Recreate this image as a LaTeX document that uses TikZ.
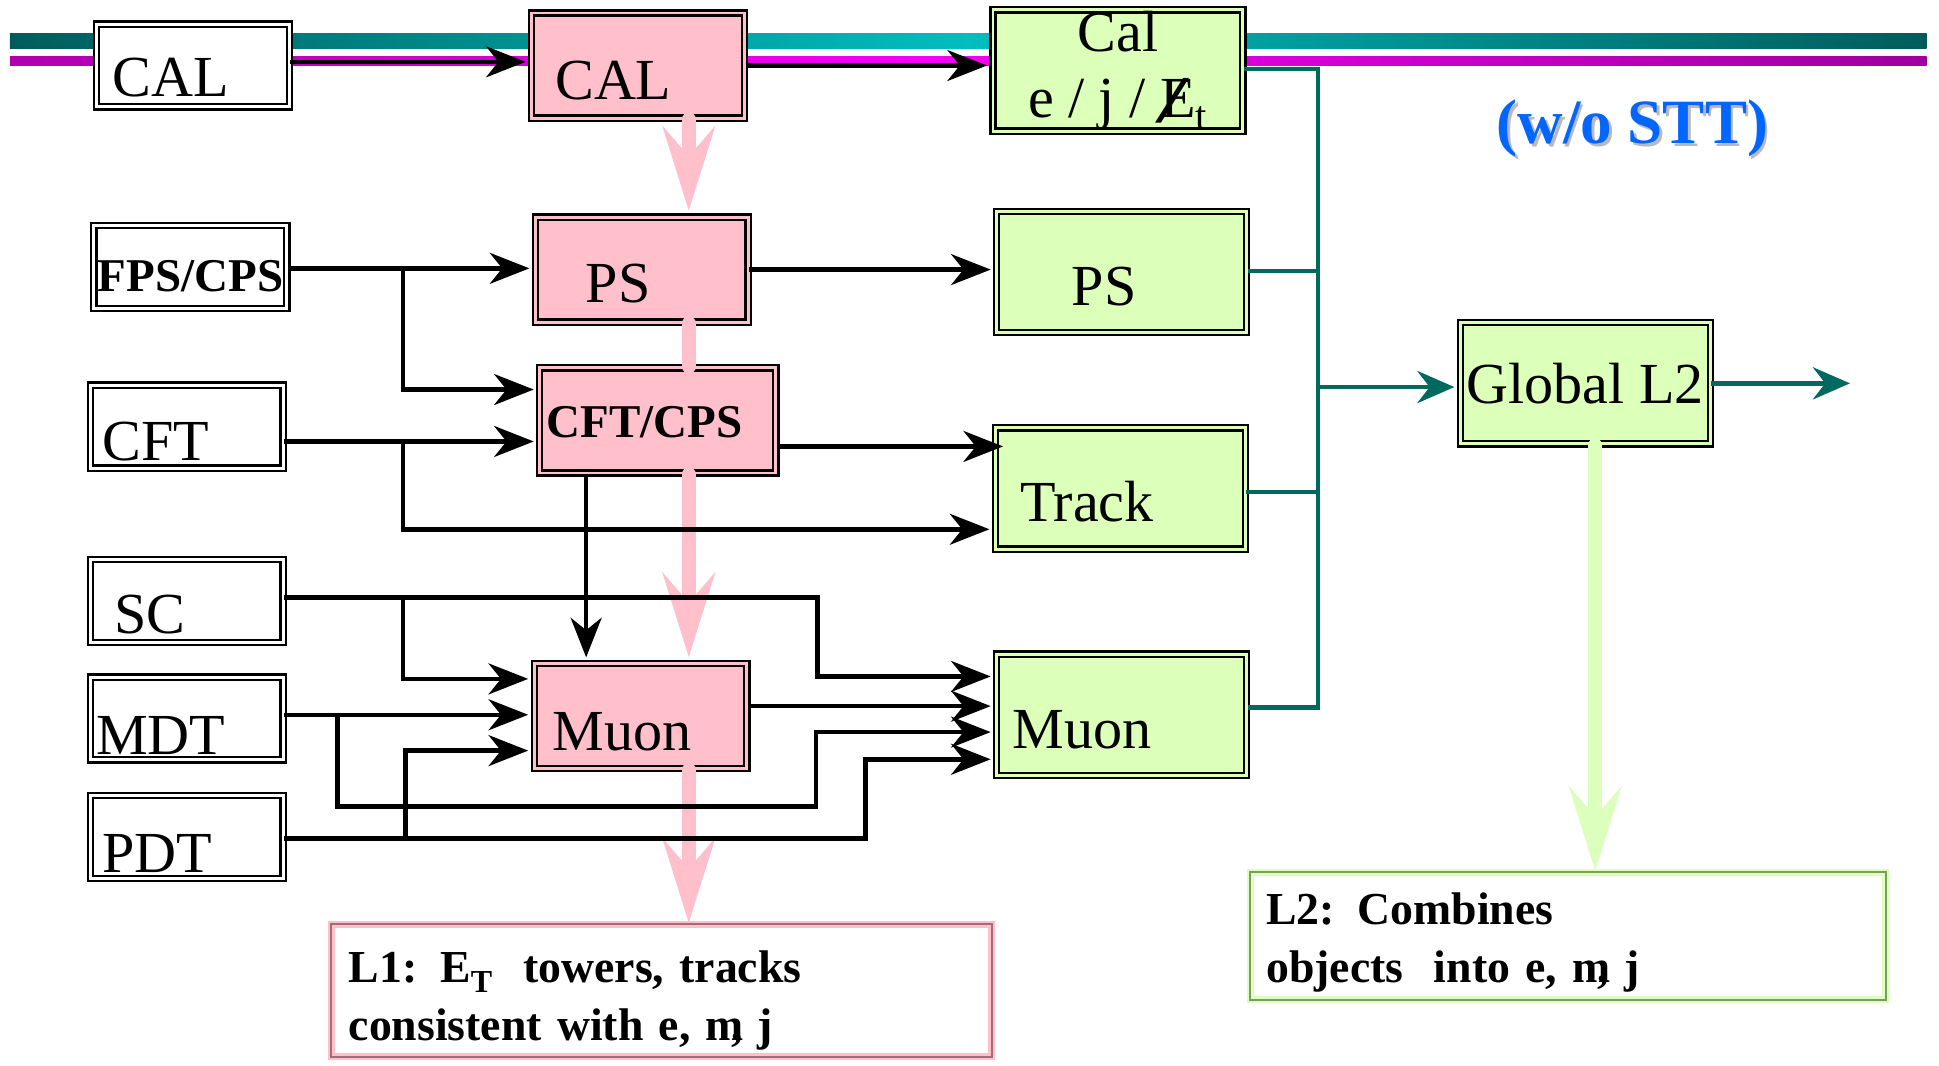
\documentclass[tikz,border=0pt]{standalone}
\usepackage{fontspec}
\setmainfont{Liberation Serif}
\usetikzlibrary{arrows.meta}
\definecolor{lpink}{RGB}{255,192,203}
\definecolor{lgreen}{RGB}{220,255,185}
\definecolor{arrgreen}{RGB}{220,255,190}
\definecolor{busc}{RGB}{0,105,95}
\definecolor{tealdark}{RGB}{0,92,92}
\definecolor{teallight}{RGB}{0,190,190}
\definecolor{magdark}{RGB}{175,0,175}
\definecolor{maglight}{RGB}{245,0,245}
\definecolor{titleblue}{RGB}{0,102,255}
\definecolor{pinkdark}{RGB}{160,110,120}
\definecolor{greendark}{RGB}{125,155,95}
\newcommand\lblfont{\fontsize{47}{53}\selectfont}
\newcommand\boldlbl{\fontsize{38}{42}\selectfont\bfseries}
\newcommand\notefont{\fontsize{37}{47}\selectfont\bfseries}
\newcommand\titlefont{\fontsize{51}{55}\selectfont\bfseries}
\newcommand\slashE{\makebox[0pt][l]{\kern-0.08em\raisebox{-0.1em}{\scalebox{2.1}[1.15]{/}}}E}

\begin{document}
\begin{tikzpicture}[x=1pt, y=-1pt,
    every label/.style={font=\lblfont, inner sep=0pt},
    txt/.style n args={3}{label={[shift={(#1,#2)}]center:#3}},
    box/.style={rectangle, draw=black, line width=1.8pt, double distance=2.4pt, inner sep=0pt, font=\lblfont},
    srcbox/.style={box, double=white, fill=white, minimum width=156pt, minimum height=67pt},
    pinkbox/.style={box, double=lpink, fill=lpink, minimum width=172pt, minimum height=85pt},
    greenbox/.style={box, double=lgreen, fill=lgreen, minimum width=202pt, minimum height=98pt},
    note/.style={rectangle, line width=2pt, double distance=1.6pt, fill=white, align=left, inner sep=0pt, font=\notefont},
    conn/.style={line width=3.6pt, -{Stealth[length=32pt, width=25pt, inset=10pt]}, shorten >=4pt},
    bus/.style={draw=busc, line width=3.6pt},
    busarr/.style={-{Stealth[length=30pt, width=26pt, inset=10pt]}, shorten >=4pt},
    fat/.style={draw=lpink, line width=11pt, line cap=round, -{Stealth[length=68pt, width=42pt, inset=24pt]}}]
  \useasboundingbox (0,0) rectangle (1568,862);

  % bars
  \shade[left color=tealdark, right color=tealdark, middle color=teallight] (8,27) rectangle (1558,39);
  \shade[left color=magdark, right color=magdark!90!black, middle color=maglight] (8,46) rectangle (1558,53);

  % inputs
  \node[srcbox, txt={-18}{10}{CAL}] (cal) at (156,53) {};
  \node[srcbox, txt={0}{7}{\boldlbl FPS/CPS}] (fps) at (154,216) {};
  \node[srcbox, txt={-25}{12}{CFT}] (cft) at (151,345) {};
  \node[srcbox, txt={-30}{11}{SC}] (sc) at (151,486) {};
  \node[srcbox, txt={-21}{14}{MDT}] (mdt) at (151,581) {};
  \node[srcbox, txt={-24}{13}{PDT}] (pdt) at (151,677) {};

  % L1
  \node[pinkbox, txt={-20}{12}{CAL}] (lcal) at (516,53) {};
  \node[pinkbox, txt={-19}{11}{PS}] (lps) at (519,218) {};
  \node[pinkbox, minimum width=191pt, txt={-11}{1}{\boldlbl CFT/CPS}] (lcft) at (532,340) {};
  \node[pinkbox, txt={-15}{13}{Muon}] (lmu) at (518,579) {};

  % L2
  \node[greenbox, align=center] (gcal) at (904,57) {Cal\\e / j / \slashE\textsubscript{t}};
  \node[greenbox, txt={-14}{12}{PS}] (gps) at (907,220) {};
  \node[greenbox, txt={-27}{11}{Track}] (gtrk) at (906,395) {};
  \node[greenbox, txt={-32}{12}{Muon}] (gmu) at (907,578) {};
  \node[greenbox] (glob) at (1282,310) {Global L2};

  \node[font=\titlefont, text=gray!55] (wosttsh) at (1322,106) {(w/o STT)};
  \node[font=\titlefont, text=titleblue] (wostt) at (1320,104) {(w/o STT)};

  \node[note, draw=lpink, double=pinkdark, minimum width=534pt, minimum height=107pt, text width=506pt] (l1note) at (535,801)
    {\rule{0pt}{42pt}L1: E\textsubscript{T}~ towers, tracks\\consistent with e, m\kern-.28em, j};
  \node[note, draw=arrgreen, double=greendark, minimum width=514pt, minimum height=103pt, text width=488pt] (l2note) at (1268,757)
    {\rule{0pt}{36pt}L2: Combines\\objects~ into e, m\kern-.28em, j};

  % level flow
  \draw[fat, shorten >=4pt] (lcal.south -| 557,0) -- (lps.north -| 557,0);
  \draw[lpink, line width=11pt, line cap=round] (lps.south -| 557,0) -- (lcft.north -| 557,0);
  \draw[fat, shorten >=4pt] (lcft.south -| 557,0) -- (lmu.north -| 557,0);
  \draw[fat] (lmu.south -| 557,0) -- (l1note.north -| 557,0);
  \draw[fat, draw=arrgreen] (glob.south -| 1290,0) -- (l2note.north -| 1290,0);

  % junctions
  \coordinate (jfps) at (326,217);
  \coordinate (jcft) at (326,357);
  \coordinate (jsc) at (326,483);
  \coordinate (jmdt) at (273,578);
  \coordinate (jpdt) at (328,678);

  \draw[conn] (cal.east |- 0,50) -- (lcal.west |- 0,50);
  \draw[conn] (lcal.east |- 0,53) -- (gcal.west |- 0,53);
  \draw[conn] (fps.east |- 0,217) -- (lps.west |- 0,217);
  \draw[conn] (jfps) |- (lcft.west |- 0,315);
  \draw[conn] (lps.east |- 0,218) -- (gps.west |- 0,218);
  \draw[conn] (cft.east |- 0,357) -- (lcft.west |- 0,357);
  \draw[conn] (jcft) |- (gtrk.west |- 0,428);
  \draw[conn, shorten >=-7pt] (lcft.east |- 0,361) -- (gtrk.west |- 0,361);
  \draw[conn] (lcft.south -| 474,0) -- (lmu.north -| 474,0);
  \draw[conn] (sc.east |- 0,483) -- (661,483) |- (gmu.west |- 0,547);
  \draw[conn] (jsc) |- (lmu.west |- 0,549);
  \draw[conn] (mdt.east |- 0,578) -- (lmu.west |- 0,578);
  \draw[conn] (jmdt) |- (660,652) |- (gmu.west |- 0,592);
  \draw[conn] (pdt.east |- 0,678) -- (700,678) |- (gmu.west |- 0,614);
  \draw[conn] (jpdt) |- (lmu.west |- 0,607);
  \draw[conn] (lmu.east |- 0,571) -- (gmu.west |- 0,571);

  % to global
  \draw[bus] (gcal.east |- 0,56) -| (1066,572) -- (gmu.east |- 0,572);
  \draw[bus] (gps.east |- 0,219) -- (1066,219);
  \draw[bus] (gtrk.east |- 0,398) -- (1066,398);
  \draw[bus, busarr] (1066,313) -- (glob.west |- 0,313);
  \coordinate (l2out) at (1500,310);
  \draw[bus, busarr] (glob.east |- 0,310) -- (l2out);
\end{tikzpicture}
\end{document}
